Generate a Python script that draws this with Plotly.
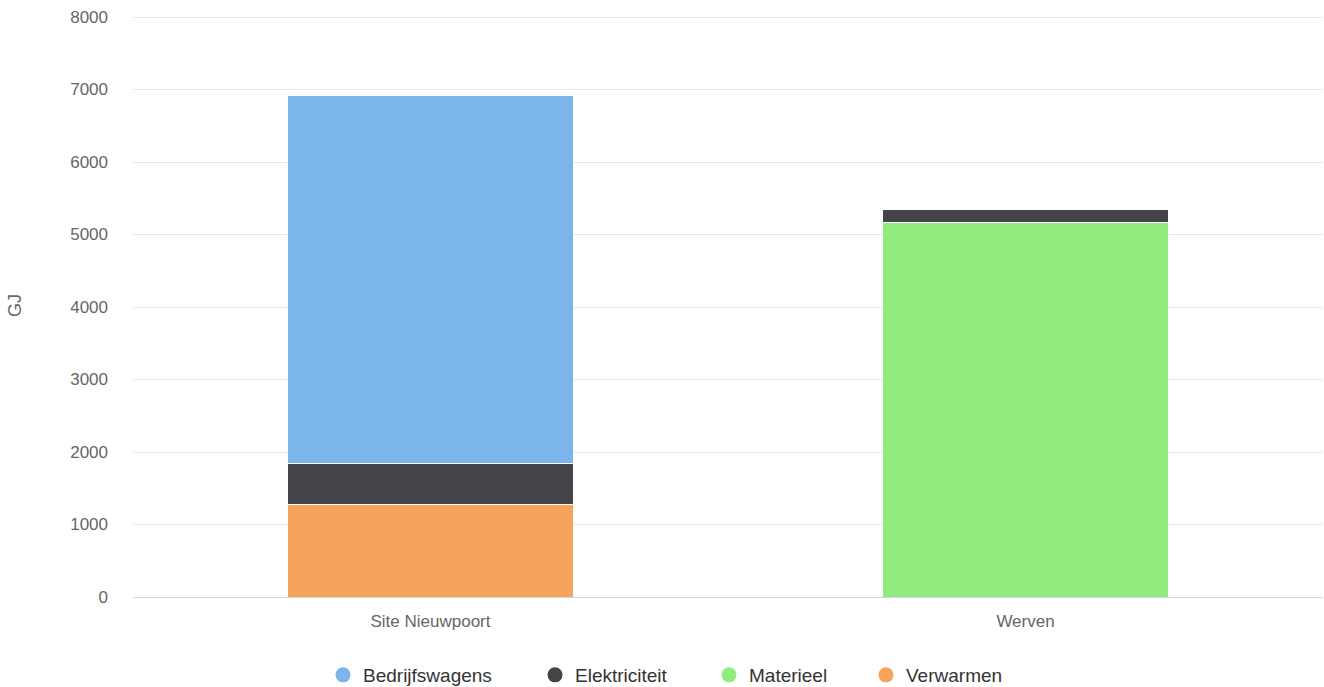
import plotly.graph_objects as go

categories = ["Site Nieuwpoort", "Werven"]
series_names = ["Bedrijfswagens", "Elektriciteit", "Materieel", "Verwarmen"]
bedrijfswagens = [5085, None]
elektriciteit = [565, 190]
materieel = [None, 5160]
verwarmen = [1270, None]
y_ticks = [0, 1000, 2000, 3000, 4000, 5000, 6000, 7000, 8000]

colors = {
    "Bedrijfswagens": "#7cb5ec",
    "Elektriciteit": "#434348",
    "Materieel": "#90ed7d",
    "Verwarmen": "#f7a35c",
}
values = {
    "Bedrijfswagens": bedrijfswagens,
    "Elektriciteit": elektriciteit,
    "Materieel": materieel,
    "Verwarmen": verwarmen,
}

FONT = "Liberation Sans, Arial, sans-serif"
W, H = 1324, 687

fig = go.Figure()
# stacking order bottom -> top
for name in ["Verwarmen", "Materieel", "Elektriciteit", "Bedrijfswagens"]:
    fig.add_trace(go.Bar(
        x=categories, y=values[name], name=name,
        marker=dict(color=colors[name], line=dict(color="#ffffff", width=1)),
        width=0.48, showlegend=False,
    ))

# legend entries (circle symbols), each in its own legend for exact placement
legend_centers = [343, 555, 729, 886]
for i, name in enumerate(series_names):
    lg = "legend" if i == 0 else f"legend{i+1}"
    fig.add_trace(go.Scatter(
        x=[None], y=[None], mode="markers", name=name,
        marker=dict(color=colors[name], size=15, symbol="circle"),
        legend=lg, showlegend=True, hoverinfo="skip",
    ))

legend_common = dict(
    orientation="h", xref="container", yref="container",
    xanchor="left", yanchor="middle", y=1 - 675 / H,
    font=dict(family=FONT, size=19, color="#333333"),
    bgcolor="rgba(0,0,0,0)", borderwidth=0, itemsizing="trace",
)
layout_legends = {}
for i, cx in enumerate(legend_centers):
    key = "legend" if i == 0 else f"legend{i+1}"
    layout_legends[key] = dict(legend_common, x=(cx - 20) / W)

fig.update_layout(
    barmode="stack",
    width=W, height=H,
    margin=dict(l=133, r=1, t=15, b=90),
    paper_bgcolor="#ffffff", plot_bgcolor="#ffffff",
    font=dict(family=FONT, size=17, color="#666666"),
    bargap=0.52,
    xaxis=dict(
        showgrid=False, showline=True, linecolor="#ccd6eb", linewidth=1,
        ticks="", tickfont=dict(size=17, color="#666666"),
        ticklabelstandoff=9, zeroline=False,
    ),
    yaxis=dict(
        range=[0, 8027.6], tickvals=y_ticks, ticktext=[str(v) for v in y_ticks],
        showgrid=True, gridcolor="#e6e6e6", gridwidth=1,
        zeroline=False, showline=False, ticks="",
        tickfont=dict(size=17, color="#666666"),
        ticklabelstandoff=24, ticklabeloverflow="allow",
    ),
    annotations=[dict(
        text="GJ", xref="paper", yref="paper", x=0, y=0.5,
        xanchor="center", yanchor="middle", xshift=-118, textangle=-90,
        showarrow=False, font=dict(family=FONT, size=18, color="#666666"),
    )],
    **layout_legends,
)

fig.write_html(
    "out.html",
    config={"displayModeBar": False},
    post_script="document.body.style.margin='0';document.body.style.overflow='hidden';",
)
